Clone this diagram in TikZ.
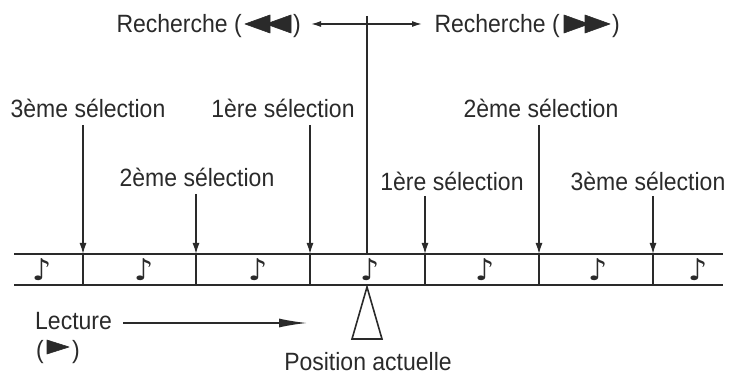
\documentclass[tikz,border=0pt]{standalone}
\usepackage{fontspec}
\usepackage{graphicx}
\setmainfont{Liberation Sans}
\newfontfamily\dvfont{DejaVu Sans}
\usetikzlibrary{arrows.meta}
\definecolor{ink}{HTML}{2A2A2A}
\newcommand{\tx}[1]{\scalebox{0.92}[1]{#1}}
\tikzset{
  lbl/.style={font=\fontsize{25}{28}\selectfont, text=ink, inner sep=0pt, anchor=base},
  selarrow/.style={draw=ink, line width=1.4pt, -{Latex[length=11pt,width=7pt]}},
  tapeline/.style={draw=ink, line width=1.8pt},
  divider/.style={draw=ink, line width=1.6pt},
  note/.style={font=\dvfont\fontsize{30}{32}\selectfont, text=ink, inner sep=0pt, anchor=base},
  tri/.style={fill=ink, draw=ink, line width=0.6pt, line join=round},
}
\begin{document}
\begin{tikzpicture}[x=1pt,y=-1pt]
\useasboundingbox (0,0) rectangle (742,374);
% tape
\coordinate (tl) at (14,254); \coordinate (tr) at (723,254);
\coordinate (bl) at (14,285); \coordinate (br) at (723,285);
\draw[tapeline] (tl) -- (tr);
\draw[tapeline] (bl) -- (br);
% dividers
\foreach \n/\x in {d1/83,d2/196,d3/310,d4/425,d5/539,d6/653}{
  \coordinate (\n t) at (\x,254); \coordinate (\n b) at (\x,285);
  \draw[divider] (\n t) -- (\n b);
}
% notes
\foreach \n/\x in {n1/42,n2/144,n3/258,n4/370,n5/485,n6/598,n7/698}{
  \node[note] (\n) at (\x,280) {♪};
}
% search left
\node[lbl, anchor=base east] (rl) at (242,33) {\tx{Recherche (}};
\node[lbl, anchor=base west] (rlp) at (293,33) {\tx{)}};
\fill[tri] (245,24) -- (270,15) -- (270,33) -- cycle;
\fill[tri] (266,24) -- (291,15) -- (291,33) -- cycle;
% search right
\node[lbl, anchor=base east] (rr) at (560,33) {\tx{Recherche (}};
\node[lbl, anchor=base west] (rrp) at (612,33) {\tx{)}};
\fill[tri] (610,24) -- (585,15) -- (585,33) -- cycle;
\fill[tri] (589,24) -- (564,15) -- (564,33) -- cycle;
% search arrow and centre line
\coordinate (al) at (311,24); \coordinate (ar) at (422,24);
\draw[draw=ink, line width=1.4pt, {Latex[length=10pt,width=6pt]}-{Latex[length=10pt,width=6pt]}] (al) -- (ar);
\coordinate (ctop) at (367,16);
\coordinate (cbot) at (367,254);
\draw[draw=ink, line width=1.6pt] (ctop) -- (cbot);
% selections
\node[lbl] (s3l) at (88,118) {\tx{3ème sélection}};
\node[lbl] (s1l) at (283,118) {\tx{1ère sélection}};
\node[lbl] (s2l) at (197,187) {\tx{2ème sélection}};
\node[lbl] (s1r) at (452,191) {\tx{1ère sélection}};
\node[lbl] (s2r) at (541,118) {\tx{2ème sélection}};
\node[lbl] (s3r) at (648,191) {\tx{3ème sélection}};
\coordinate (a1) at (83,125);  \draw[selarrow] (a1) -- (d1t);
\coordinate (a2) at (196,194); \draw[selarrow] (a2) -- (d2t);
\coordinate (a3) at (310,125); \draw[selarrow] (a3) -- (d3t);
\coordinate (a4) at (425,196); \draw[selarrow] (a4) -- (d4t);
\coordinate (a5) at (539,125); \draw[selarrow] (a5) -- (d5t);
\coordinate (a6) at (653,196); \draw[selarrow] (a6) -- (d6t);
% lecture
\node[lbl, anchor=base west] (lec) at (35,329) {\tx{Lecture}};
\node[lbl, anchor=base east] (lpo) at (44,358) {\tx{(}};
\node[lbl, anchor=base west] (lpc) at (72,358) {\tx{)}};
\fill[tri] (47,340) -- (69,347) -- (47,354) -- cycle;
\coordinate (lb) at (123,323); \coordinate (le) at (307,323);
\draw[draw=ink, line width=1.4pt, -{Latex[length=28pt,width=9pt]}] (lb) -- (le);
% position
\coordinate (pa) at (367,287);
\coordinate (pl) at (352,339);
\coordinate (pr) at (382,339);
\draw[draw=ink, line width=1.6pt, line join=miter] (pa) -- (pl) -- (pr) -- cycle;
\node[lbl] (pos) at (368,370) {\tx{Position actuelle}};
\end{tikzpicture}
\end{document}
